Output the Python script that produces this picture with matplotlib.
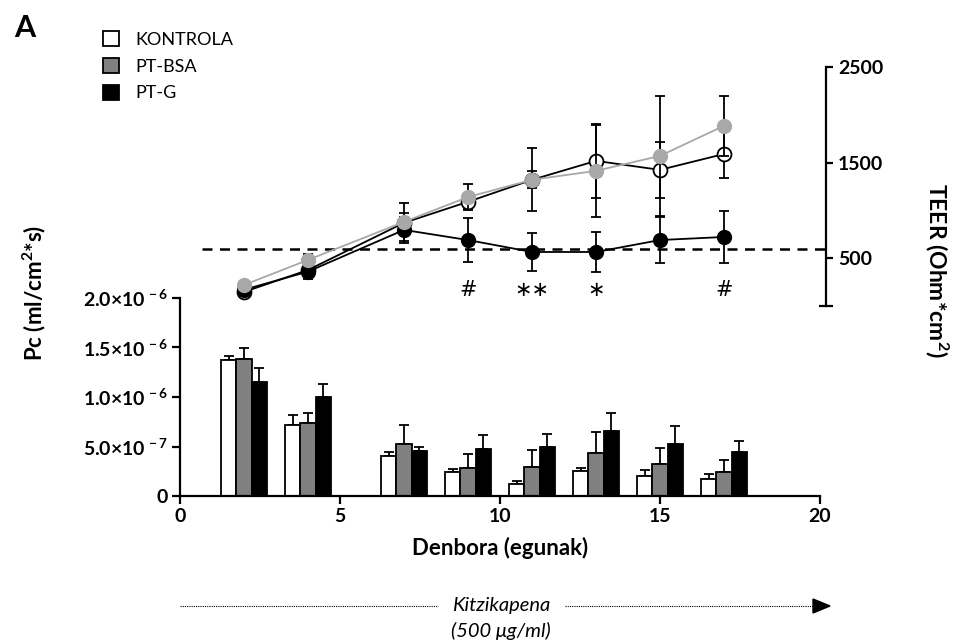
import numpy as np
import matplotlib
matplotlib.use("Agg")
from matplotlib import pyplot as plt

plt.rcParams['font.family'] = ['Lato', 'DejaVu Sans']
plt.rcParams['mathtext.fontset'] = 'custom'
plt.rcParams['mathtext.rm'] = 'Lato:bold'
plt.rcParams['mathtext.bf'] = 'Lato:bold'
plt.rcParams['mathtext.it'] = 'Lato:italic:bold'

days = [2, 4, 7, 9, 11, 13, 15, 17]
groups = ['KONTROLA', 'PT-BSA', 'PT-G']

# permeability coefficient, in 1e-6 ml/cm2*s
pc_kontrola = [1.37, 0.72, 0.40, 0.24, 0.12, 0.25, 0.20, 0.17]
pc_kontrola_err = [0.04, 0.10, 0.04, 0.03, 0.03, 0.03, 0.06, 0.05]
pc_bsa = [1.38, 0.74, 0.53, 0.28, 0.29, 0.43, 0.32, 0.24]
pc_bsa_err = [0.12, 0.10, 0.19, 0.14, 0.17, 0.22, 0.16, 0.12]
pc_g = [1.15, 1.00, 0.45, 0.47, 0.49, 0.66, 0.53, 0.44]
pc_g_err = [0.14, 0.13, 0.04, 0.15, 0.14, 0.18, 0.18, 0.12]

# TEER, Ohm*cm2
teer_kontrola = [147, 377, 870, 1090, 1320, 1518, 1424, 1590]
teer_kontrola_err = [30, 95, 100, 80, 330, 390, 294, 250]
teer_bsa = [220, 482, 880, 1140, 1320, 1414, 1570, 1885]
teer_bsa_err = [30, 60, 200, 140, 90, 480, 630, 315]
teer_g = [170, 360, 796, 690, 565, 565, 690, 722]
teer_g_err = [30, 60, 136, 230, 195, 205, 240, 270]

teer_limit = 600
signif_days = [9, 11, 13, 17]
signif_marks = ['#', '\u2217\u2217', '\u2217', '#']

W, H = 961, 644
fig = plt.figure(figsize=(W / 100, H / 100), dpi=100)

def box(l, t, r, b):
    return [l / W, 1 - b / H, (r - l) / W, (b - t) / H]

# bars (permeability)
ax = fig.add_axes(box(180, 298, 820, 496))
x = np.array(days, dtype=float)
bw = 0.48
cols = ['white', '#808080', 'black']
vals = [pc_kontrola, pc_bsa, pc_g]
errs = [pc_kontrola_err, pc_bsa_err, pc_g_err]
bars = []
for i in range(3):
    v = np.array(vals[i]) * 1e-6
    e = np.array(errs[i]) * 1e-6
    b = ax.bar(x + (i - 1) * bw, v, bw, color=cols[i], edgecolor='black',
               linewidth=1.3, label=groups[i], zorder=2)
    ax.errorbar(x + (i - 1) * bw, v, yerr=[np.zeros_like(e), e], fmt='none',
                ecolor='black', elinewidth=1.3, capsize=3.5, capthick=1.3, zorder=1)
    bars.append(b)

ax.set_xlim(0, 20)
ax.set_ylim(0, 2e-6)
ax.set_xticks([0, 5, 10, 15, 20])
ax.set_yticks([0, 5e-7, 1e-6, 1.5e-6, 2e-6])
ax.set_yticklabels(['0', r'5.0$\times$10$^{\,-7}$', r'1.0$\times$10$^{\,-6}$',
                    r'1.5$\times$10$^{\,-6}$', r'2.0$\times$10$^{\,-6}$'])
for s in ['top', 'right']:
    ax.spines[s].set_visible(False)
for s in ['left', 'bottom']:
    ax.spines[s].set_linewidth(1.6)
ax.tick_params(width=1.6, length=6, labelsize=14, pad=3)
for t in ax.get_xticklabels() + ax.get_yticklabels():
    t.set_fontweight('bold')
ax.patch.set_alpha(0)

ax.set_xlabel('Denbora (egunak)', fontsize=16, fontweight='bold', labelpad=8)

# TEER lines
ax2 = fig.add_axes(box(180, 67, 820, 306))
ax2.patch.set_alpha(0)
ax2.set_xlim(0, 20)
ax2.set_ylim(0, 2500)
for s in ['top', 'left', 'bottom']:
    ax2.spines[s].set_visible(False)
ax2.spines['right'].set_position(('outward', 4))
ax2.spines['right'].set_linewidth(1.6)
ax2.set_xticks([])
ax2.yaxis.tick_right()
ax2.set_yticks([500, 1500, 2500])
ax2.set_yticks([0], minor=True)
ax2.tick_params(axis='y', which='major', width=1.6, length=5, labelsize=14, pad=4)
ax2.tick_params(axis='y', which='minor', width=1.6, length=10, direction='inout')
for t in ax2.get_yticklabels():
    t.set_fontweight('bold')

ax2.plot([0.7, 20.15], [teer_limit, teer_limit], ls=(0, (4, 3)), color='black',
         lw=1.8, clip_on=False, zorder=1)

ax2.errorbar(days, teer_kontrola, yerr=teer_kontrola_err, color='black', lw=1.3,
             marker='o', ms=10, mfc='white', mec='black', mew=1.3,
             capsize=3.5, capthick=1.3, elinewidth=1.3, zorder=3)
ax2.errorbar(days, teer_g, yerr=teer_g_err, color='black', lw=1.3,
             marker='o', ms=10, mfc='black', mec='black',
             capsize=3.5, capthick=1.3, elinewidth=1.3, zorder=4)
ax2.errorbar(days, teer_bsa, yerr=teer_bsa_err, color='#a8a8a8', lw=1.3,
             marker='o', ms=10, mfc='#a8a8a8', mec='#a8a8a8',
             ecolor='black', capsize=3.5, capthick=1.3, elinewidth=1.3, zorder=5)

for d, m in zip(signif_days, signif_marks):
    ax2.text(d, 170, m, ha='center', va='center', fontsize=15,
             family=['DejaVu Sans'])

# axis titles
fig.text(34 / W, 1 - 293 / H, 'Pc (ml/cm$^{2}$*s)', rotation=90,
         ha='center', va='center', fontsize=16, fontweight='bold')
fig.text(937 / W, 1 - 270 / H, 'TEER (Ohm*cm$^{2}$)', rotation=-90,
         ha='center', va='center', fontsize=16.5, fontweight='bold')

fig.text(25 / W, 1 - 28 / H, 'A', ha='center', va='center', fontsize=22,
         fontweight='bold')

fig.legend(handles=bars, labels=groups, loc='upper left',
           bbox_to_anchor=(96 / W, 1 - 24 / H), frameon=False, fontsize=13,
           handlelength=0.9, handleheight=0.9, labelspacing=0.55, handletextpad=0.9,
           borderaxespad=0)

# treatment arrow
y_arr = 1 - 606 / H
fig.add_artist(plt.Line2D([180 / W, 438 / W], [y_arr, y_arr], ls=(0, (1, 1)),
                          lw=0.8, color='black'))
fig.add_artist(plt.Line2D([565 / W, 815 / W], [y_arr, y_arr], ls=(0, (1, 1)),
                          lw=0.8, color='black'))
fig.add_artist(plt.Polygon([[813 / W, y_arr + 7 / H], [830 / W, y_arr],
                            [813 / W, y_arr - 7 / H]], closed=True,
                           color='black', transform=fig.transFigure))
fig.text(501 / W, y_arr, 'Kitzikapena', ha='center', va='center', fontsize=14.5,
         style='italic')
fig.text(501 / W, 1 - 631 / H, '(500 μg/ml)', ha='center', va='center',
         fontsize=14.5, style='italic')

fig.savefig('out.png', dpi=100)
